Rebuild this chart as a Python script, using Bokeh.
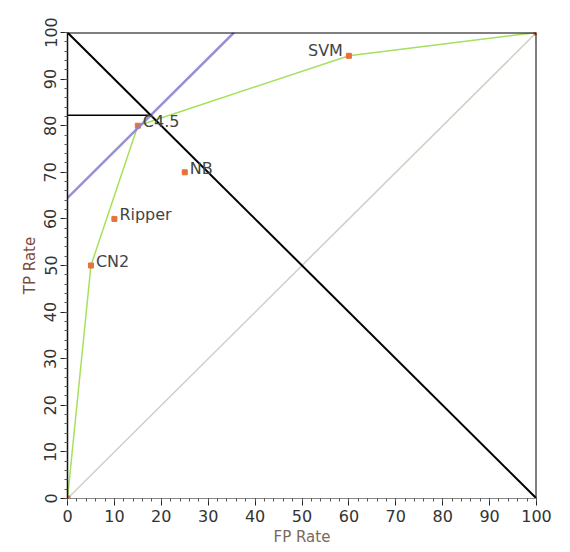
from bokeh.plotting import figure
from bokeh.models import Range1d, ColumnDataSource, SingleIntervalTicker
from bokeh.embed import file_html
from bokeh.resources import INLINE
from bokeh.core.properties import value

# data
names = ["", "CN2", "Ripper", "C4.5", "NB", "SVM", ""]
fp = [0, 5, 10, 15, 25, 60, 100]
tp = [0, 50, 60, 80, 70, 95, 100]
hull_fp = [0, 5, 15, 60, 100]
hull_tp = [0, 50, 80, 95, 100]
iso_fp = [0, 35.5]
iso_tp = [64.5, 100]
diag_fp = [0, 100]
diag_tp = [0, 100]
anti_fp = [0, 100]
anti_tp = [100, 0]
hline_fp = [0, 17.75]
hline_tp = [82.25, 82.25]
frame_fp = [0, 100, 100]
frame_tp = [100, 100, 0]

W, H = 560, 548
p = figure(width=W, height=H, output_backend="svg", toolbar_location=None,
           x_range=Range1d(0, 100), y_range=Range1d(0, 100),
           min_border_left=67, min_border_top=32,
           min_border_right=W - 536, min_border_bottom=H - 499)
p.outline_line_color = None
p.grid.visible = False
p.background_fill_color = "white"
p.border_fill_color = "white"

font = "DejaVu Sans"
p.xaxis[0].ticker = SingleIntervalTicker(interval=10, num_minor_ticks=5)
p.yaxis[0].ticker = SingleIntervalTicker(interval=10, num_minor_ticks=5)
for ax in (p.xaxis[0], p.yaxis[0]):
    ax.major_label_text_font = font
    ax.major_label_text_font_size = "16px"
    ax.major_label_text_color = "#333333"
    ax.axis_label_text_font = font
    ax.axis_label_text_font_size = "15px"
    ax.axis_label_text_font_style = "normal"
    ax.major_tick_out = 7
    ax.major_tick_in = 0
    ax.minor_tick_out = 3
    ax.minor_tick_in = 0
    ax.major_tick_line_color = "#222222"
    ax.minor_tick_line_color = "#555555"
    ax.axis_label_standoff = 3
    ax.major_label_standoff = 4
p.xaxis.axis_label = "FP Rate"
p.yaxis.axis_label = "TP Rate"
p.xaxis.axis_label_text_color = "#7a6a5a"
p.yaxis.axis_label_text_color = "#7a4a3a"
p.xaxis.axis_line_color = "#888888"
p.yaxis.axis_line_color = "#111111"
p.yaxis.axis_line_width = 1.5
p.yaxis.major_label_orientation = "vertical"

# lines
p.line(diag_fp, diag_tp, line_color="#cfcfc4", line_width=1.5)
p.line(hull_fp, hull_tp, line_color="#a6e05a", line_width=1.5)
p.scatter(fp, tp, marker="square", size=5, color="#e8703a")
p.line(iso_fp, iso_tp, line_color="#8a84d0", line_width=2.5, line_alpha=0.9)
p.line(anti_fp, anti_tp, line_color="black", line_width=2)
p.line(hline_fp, hline_tp, line_color="black", line_width=1.5)
p.line(frame_fp, frame_tp, line_color="black", line_width=2)

# labels
src_r = ColumnDataSource(dict(x=fp[1:5], y=tp[1:5], t=names[1:5]))
p.text(x="x", y="y", text="t", source=src_r, x_offset=5, y_offset=-4,
       text_font=value(font), text_font_size="16px", text_color="#444444",
       text_baseline="middle", text_align="left")
src_l = ColumnDataSource(dict(x=[fp[5]], y=[tp[5]], t=[names[5]]))
p.text(x="x", y="y", text="t", source=src_l, x_offset=-6, y_offset=-5,
       text_font=value(font), text_font_size="16px", text_color="#444444",
       text_baseline="middle", text_align="right")

open("out.html", "w").write(file_html(p, INLINE))
